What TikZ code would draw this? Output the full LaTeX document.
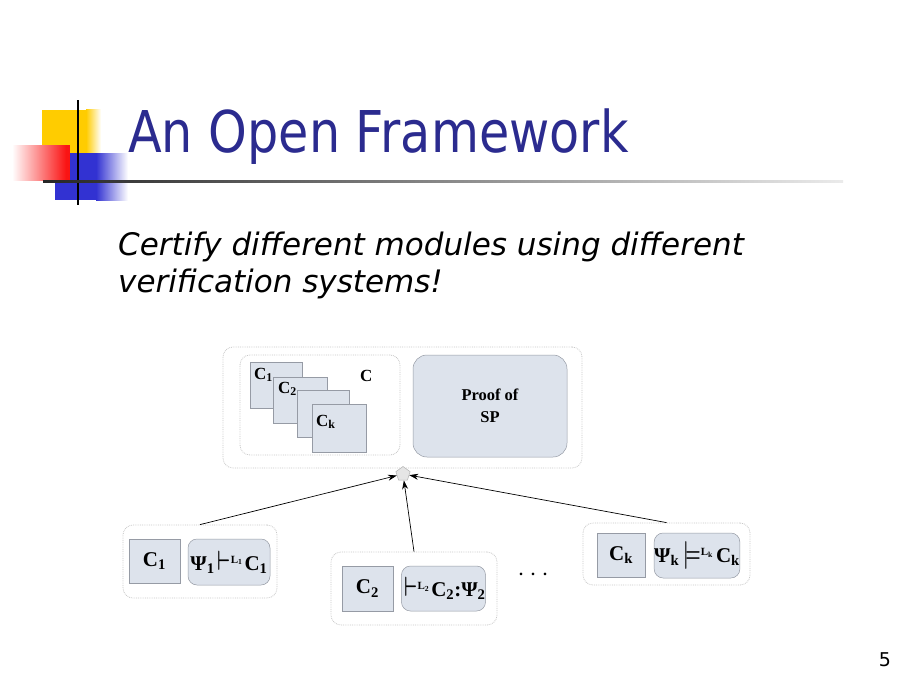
\documentclass[tikz,border=0pt]{standalone}
\usepackage{fontspec}
\usetikzlibrary{arrows.meta,shapes.geometric}
\setmainfont{Liberation Serif}
\newfontfamily\titlefont[FakeStretch=0.855]{DejaVu Sans}
\newfontfamily\subfont{DejaVu Sans}
\newfontfamily\numfont{DejaVu Sans}
\definecolor{titleblue}{RGB}{43,43,143}
\definecolor{boxfill}{RGB}{221,227,236}
\definecolor{boxline}{RGB}{150,155,165}
\definecolor{dotline}{RGB}{200,200,200}
\definecolor{logoyellow}{RGB}{255,204,0}
\definecolor{logored}{RGB}{250,20,20}
\definecolor{logoblue}{RGB}{50,50,210}
\newcommand{\sbs}[1]{\textsubscript{#1}}
\newcommand{\supL}[1]{\raisebox{7pt}{\fontsize{11}{11}\selectfont L\textsubscript{#1}}}
\newcommand{\turn}[1]{\kern3pt\scalebox{0.9}[1.35]{\boldmath$\vdash$}\supL{#1}\kern2pt}
\newcommand{\dturn}[1]{\kern4pt\scalebox{0.85}[1.35]{\boldmath$\models$}\supL{#1}\kern3pt}
\begin{document}
\begin{tikzpicture}[x=1pt,y=-1pt,
  frame/.style={draw=dotline, densely dotted, rounded corners=10pt, line width=0.8pt, fill=white, inner sep=0},
  cbox/.style={draw=boxline, fill=boxfill, line width=0.5pt, inner sep=0},
  rbox/.style={cbox, rounded corners=9pt},
  arr/.style={-{Stealth[length=9pt,width=6pt]}, line width=0.7pt},
  lab/.style={font=\bfseries\fontsize{21}{23}\selectfont},
  small/.style={font=\bfseries\fontsize{17}{18}\selectfont, inner sep=0}]
\useasboundingbox[fill=white] (0,0) rectangle (920,690);
% logo
\fill[logoyellow] (42,110) rectangle (86,153);
\shade[left color=logoyellow, right color=white] (86,110) rectangle (101,153);
\fill[logoblue] (55,153) rectangle (96,200);
\shade[left color=logoblue, right color=white] (96,153) rectangle (128,200);
\shade[left color=white, right color=logored] (12,145) rectangle (66,180);
\fill[logored] (66,145) rectangle (70,180);
\fill[black] (77,100) rectangle (79,205);
\shade[left color=black!85, right color=black!8] (43,180) rectangle (843,182);
% title and subtitle
\node[anchor=base west, inner sep=0, text=titleblue, font=\titlefont\fontsize{57.6}{60}\selectfont] (title) at (128,152) {An Open Framework};
\node[anchor=base west, inner sep=0, font=\subfont\itshape\fontsize{31}{37}\selectfont] (sub1) at (118,255) {Certify different modules using different};
\node[anchor=base west, inner sep=0, font=\subfont\itshape\fontsize{31}{37}\selectfont] (sub2) at (118,292) {verification systems!};
% top block
\node[frame, minimum width=359pt, minimum height=121pt] (top) at (402.5,407.5) {};
\node[frame, minimum width=160pt, minimum height=100pt] (cset) at (320,405) {};
\node[rbox, rounded corners=14pt, minimum width=154pt, minimum height=102pt, font=\bfseries\fontsize{16.5}{22}\selectfont, align=center] (proof) at (490,406) {Proof of\\SP};
\node[cbox, minimum width=52pt, minimum height=46pt] (c1s) at (276,385) {};
\node[cbox, minimum width=54pt, minimum height=46pt] (c2s) at (300,400) {};
\node[cbox, minimum width=52pt, minimum height=47pt] (c3s) at (323,413.5) {};
\node[cbox, minimum width=54pt, minimum height=48pt] (cks) at (339,428) {};
\node[small, anchor=base west] (c1l) at (254,379) {C\sbs{1}};
\node[small, anchor=base west] (c2l) at (278,393) {C\sbs{2}};
\node[small, anchor=base west] (ckl) at (316,426) {C\sbs{k}};
\node[small, anchor=base west] (cl) at (360,381) {C};
% hub
\node[regular polygon, regular polygon sides=5, minimum size=15pt, inner sep=0, fill=gray!20, draw=gray!60, line width=0.5pt] (hub) at (403,474) {};
% bottom groups
\node[frame, minimum width=154pt, minimum height=73pt] (g1) at (200,561.5) {};
\node[cbox, lab, minimum width=51pt, minimum height=44pt] (b1c) at (154.5,561) {C\sbs{1}};
\node[rbox, lab, minimum width=82pt, minimum height=46pt] (b1p) at (229,562) {Ψ\sbs{1}\turn{1}C\sbs{1}};
\node[frame, minimum width=166pt, minimum height=73pt] (g2) at (414,588.5) {};
\node[cbox, lab, minimum width=51pt, minimum height=45pt] (b2c) at (367.5,588.5) {C\sbs{2}};
\node[rbox, lab, minimum width=83pt, minimum height=45pt] (b2p) at (443.5,588.5) {\turn{2}C\sbs{2}:Ψ\sbs{2}};
\node[font=\bfseries\fontsize{16}{16}\selectfont, inner sep=0] (dots) at (533,574) {.\ \ .\ \ .};
\node[frame, minimum width=167pt, minimum height=62pt] (g3) at (666.5,554) {};
\node[cbox, lab, minimum width=48pt, minimum height=44pt] (b3c) at (621,555) {C\sbs{k}};
\node[rbox, lab, minimum width=82pt, minimum height=45pt] (b3p) at (697,555.5) {Ψ\sbs{k}\dturn{k}C\sbs{k}};
% arrows
\draw[arr] (g1.north) -- (hub);
\draw[arr] (g2.north) -- (hub);
\draw[arr] (g3.north) -- (hub);
% page number
\node[font=\numfont\fontsize{19}{19}\selectfont, inner sep=0] (pnum) at (885,660) {5};
\end{tikzpicture}
\end{document}
